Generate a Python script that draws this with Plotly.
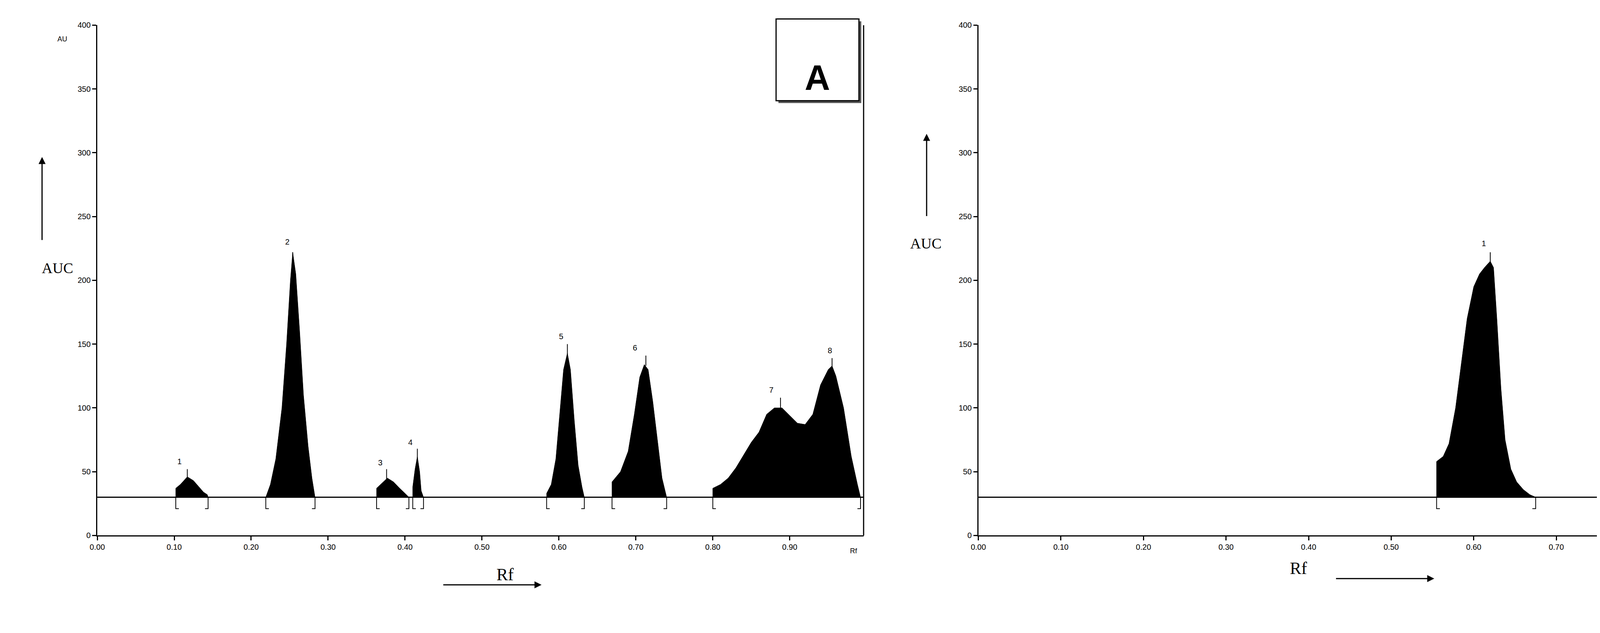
import plotly.graph_objects as go

BASE = 30
# Panel A peaks: (Rf list, AU list)
A_peaks = {
    "1": ([0.102, 0.102, 0.108, 0.117, 0.125, 0.132, 0.138, 0.143, 0.144],
          [30, 37, 40, 46, 43, 38, 34, 32, 30]),
    "2": ([0.219, 0.225, 0.232, 0.240, 0.246, 0.251, 0.254, 0.258, 0.263, 0.268, 0.274, 0.279, 0.283],
          [30, 40, 60, 100, 150, 200, 222, 205, 160, 110, 70, 45, 30]),
    "3": ([0.363, 0.363, 0.370, 0.377, 0.385, 0.393, 0.400, 0.405],
          [30, 37, 41, 45, 42, 37, 33, 30]),
    "4": ([0.410, 0.410, 0.413, 0.416, 0.419, 0.421, 0.424],
          [30, 38, 52, 62, 50, 35, 30]),
    "5": ([0.584, 0.584, 0.590, 0.596, 0.601, 0.606, 0.611, 0.615, 0.620, 0.625, 0.630, 0.633],
          [30, 33, 40, 60, 95, 130, 143, 130, 90, 55, 38, 30]),
    "6": ([0.669, 0.669, 0.680, 0.690, 0.698, 0.705, 0.711, 0.716, 0.722, 0.728, 0.734, 0.740],
          [30, 42, 50, 66, 95, 124, 134, 130, 105, 75, 45, 30]),
    "7-8": ([0.800, 0.800, 0.810, 0.820, 0.830, 0.840, 0.850, 0.860, 0.870, 0.880, 0.890, 0.900, 0.910,
             0.920, 0.930, 0.940, 0.950, 0.955, 0.960, 0.970, 0.980, 0.988, 0.992],
            [30, 37, 40, 45, 53, 63, 73, 81, 95, 100, 100, 94, 88, 87, 95, 118, 130, 133, 125, 100, 62, 40, 30]),
}
A_ticks = [(0.117, 52, "1", 0.107, 58), (0.254, 222, "2", 0.247, 230), (0.376, 52, "3", 0.368, 57),
           (0.416, 68, "4", 0.407, 73), (0.611, 150, "5", 0.603, 156), (0.713, 141, "6", 0.699, 147),
           (0.888, 108, "7", 0.876, 114), (0.955, 139, "8", 0.952, 145)]
A_brackets = [(0.102, 1), (0.144, -1), (0.219, 1), (0.283, -1), (0.363, 1), (0.405, -1), (0.410, 1),
              (0.424, -1), (0.584, 1), (0.633, -1), (0.669, 1), (0.740, -1), (0.800, 1), (0.992, -1)]

B_peaks = {
    "1": ([0.555, 0.555, 0.563, 0.570, 0.578, 0.585, 0.592, 0.600, 0.607, 0.613, 0.620, 0.624, 0.628,
           0.633, 0.638, 0.645, 0.652, 0.660, 0.668, 0.675],
          [30, 58, 62, 72, 100, 135, 170, 195, 205, 210, 215, 210, 170, 115, 75, 52, 42, 36, 32, 30]),
    "2": ([0.876, 0.876, 0.885, 0.895, 0.905, 0.915, 0.925, 0.932, 0.932],
          [30, 52, 57, 60, 58, 55, 52, 50, 30]),
}
B_ticks = [(0.620, 222, "1", 0.612, 229), (0.895, 67, "2", 0.885, 73)]
B_brackets = [(0.555, 1), (0.675, -1), (0.876, 1), (0.932, -1)]

x_ticks = [0.0, 0.1, 0.2, 0.3, 0.4, 0.5, 0.6, 0.7, 0.8, 0.9]
x_ticktext = ["0.00", "0.10", "0.20", "0.30", "0.40", "0.50", "0.60", "0.70", "0.80", "0.90"]
y_ticks = [0, 50, 100, 150, 200, 250, 300, 350, 400]

W, H = 4545, 1620
fig = go.Figure()
FONT = "Liberation Sans"

def add_panel(peaks, ticks, brackets, xa, ya, xmax):
    for name, (xs, ys) in peaks.items():
        fig.add_trace(go.Scatter(x=xs, y=ys, mode="lines", fill="toself", fillcolor="black",
                                 line=dict(color="black", width=1), xaxis=xa, yaxis=ya, showlegend=False))
    fig.add_trace(go.Scatter(x=[0, xmax], y=[BASE, BASE], mode="lines", line=dict(color="black", width=3),
                             xaxis=xa, yaxis=ya, showlegend=False))
    for px, py, lab, lx, ly in ticks:
        fig.add_trace(go.Scatter(x=[px, px], y=[py - 8, py], mode="lines", line=dict(color="black", width=2),
                                 xaxis=xa, yaxis=ya, showlegend=False))
        fig.add_annotation(x=lx, y=ly, text=lab, showarrow=False, xref=xa, yref=ya,
                           font=dict(family=FONT, size=20, color="black"))
    for bx, d in brackets:
        fig.add_trace(go.Scatter(x=[bx, bx, bx + d * 0.004], y=[BASE, BASE - 9, BASE - 9], mode="lines",
                                 line=dict(color="black", width=2), xaxis=xa, yaxis=ya, showlegend=False))

add_panel(A_peaks, A_ticks, A_brackets, "x", "y", 0.996)
add_panel(B_peaks, B_ticks, B_brackets, "x2", "y2", 0.955)

ydom = [250 / H, 1 - 46 / H]
axcommon = dict(showgrid=False, zeroline=False, showline=True, linecolor="black", linewidth=3,
                ticks="outside", tickcolor="black", tickwidth=3, ticklen=10,
                tickfont=dict(family=FONT, size=20, color="black"))
fig.update_layout(
    width=W, height=H, plot_bgcolor="white", paper_bgcolor="white",
    margin=dict(l=0, r=0, t=0, b=0),
    xaxis=dict(domain=[223 / W, 2193 / W], range=[0, 0.996], tickvals=x_ticks, ticktext=x_ticktext,
               anchor="y", **axcommon),
    yaxis=dict(domain=ydom, range=[0, 400], tickvals=y_ticks, anchor="x", **axcommon),
    xaxis2=dict(domain=[2488 / W, 4515 / W], range=[0, 0.955], tickvals=x_ticks, ticktext=x_ticktext,
                anchor="y2", **axcommon),
    yaxis2=dict(domain=ydom, range=[0, 400], tickvals=y_ticks, anchor="x2", **axcommon),
)

def paper_xy(px, py):
    return px / W, 1 - py / H

shapes = []
for xr in (2193, 4515):
    x0, y0 = paper_xy(xr, 46)
    _, y1 = paper_xy(xr, 1370)
    shapes.append(dict(type="line", xref="paper", yref="paper", x0=x0, x1=x0, y0=y0, y1=y1,
                       line=dict(color="black", width=3)))
for (bx0, by0, bx1, by1) in [(1968, 30, 2181, 242), (4302, 30, 4512, 242)]:
    a0, b0 = paper_xy(bx0 + 6, by0 + 6)
    a1, b1 = paper_xy(bx1 + 6, by1 + 6)
    shapes.append(dict(type="rect", xref="paper", yref="paper", x0=a0, x1=a1, y0=b1, y1=b0,
                       fillcolor="#555555", line=dict(width=0)))
    a0, b0 = paper_xy(bx0, by0)
    a1, b1 = paper_xy(bx1, by1)
    shapes.append(dict(type="rect", xref="paper", yref="paper", x0=a0, x1=a1, y0=b1, y1=b0,
                       fillcolor="white", line=dict(color="black", width=3)))
fig.update_layout(shapes=shapes)

def ann(px, py, text, size, family=FONT):
    x, y = paper_xy(px, py)
    fig.add_annotation(x=x, y=y, xref="paper", yref="paper", text=text, showarrow=False,
                       font=dict(family=family, size=size, color="black"))

def arrow(px0, py0, px1, py1):
    x1, y1 = paper_xy(px1, py1)
    fig.add_annotation(x=x1, y=y1, xref="paper", yref="paper", axref="pixel", ayref="pixel",
                       ax=px0 - px1, ay=py0 - py1,
                       text="", showarrow=True, arrowhead=2, arrowsize=1.2, arrowwidth=3, arrowcolor="black")

ann(2074, 130, "<b>A</b>", 90)
ann(4405, 130, "<b>B</b>", 90)
ann(118, 70, "AU", 18)
ann(2168, 1422, "Rf", 18)
ann(4503, 1405, "Rf", 18)
ann(78, 676, "AUC", 38, family="Liberation Serif")
ann(2353, 612, "AUC", 38, family="Liberation Serif")
ann(1247, 1498, "Rf", 44, family="Liberation Serif")
ann(3335, 1482, "Rf", 44, family="Liberation Serif")
arrow(81, 602, 81, 388)
arrow(2355, 540, 2355, 328)
arrow(1112, 1498, 1365, 1498)
arrow(3407, 1482, 3660, 1482)

fig.write_html("out.html")
